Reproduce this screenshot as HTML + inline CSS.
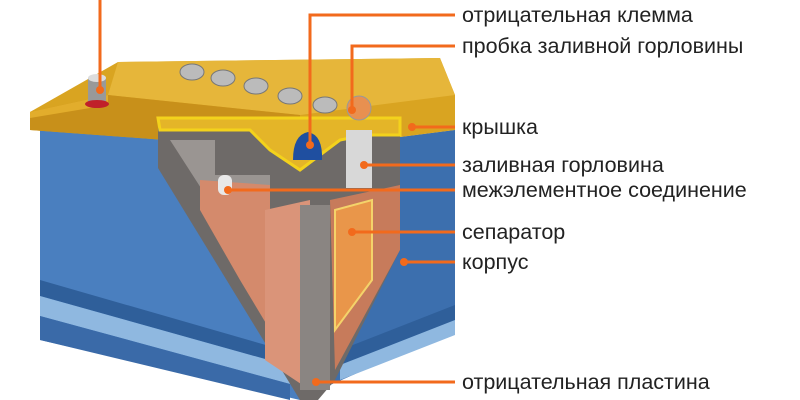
<!DOCTYPE html>
<html><head><meta charset="utf-8"><style>
html,body{margin:0;padding:0;background:#fff;width:800px;height:400px;overflow:hidden}
text{font-family:"Liberation Sans",sans-serif;font-size:21.5px;fill:#222}
</style></head><body>
<svg width="800" height="400" viewBox="0 0 800 400">
<!-- body -->
<polygon points="40,130 300,150 455,130 455,330 330,385 300,400 40,340" fill="#4a7fbf"/>
<polygon points="300,150 455,130 455,330 330,385" fill="#3c6fae"/>
<polygon points="40,280 290,352 290,366 40,296" fill="#2f5f9a"/>
<polygon points="40,296 290,366 290,384 40,316" fill="#8fb8e0"/>
<polygon points="40,316 290,384 290,400 40,340" fill="#3a6aa8"/>
<polygon points="340,350 455,305 455,320 340,365" fill="#2f5f9a"/>
<polygon points="340,365 455,320 455,335 340,380" fill="#8fb8e0"/>
<!-- lid -->
<polygon points="30,112 118,62 440,58 455,95 455,130 300,150 30,130" fill="#d9a421"/>
<polygon points="118,62 440,58 455,95 300,115 108,95" fill="#e6b63a"/>
<polygon points="30,112 108,95 300,115 300,150 30,130" fill="#c8901a"/>
<polygon points="30,112 108,95 108,105 30,118" fill="#e2ad2c"/>
<!-- caps -->
<g fill="#bbb" stroke="#777" stroke-width="1">
<ellipse cx="192" cy="72" rx="12" ry="8"/><ellipse cx="223" cy="78" rx="12" ry="8"/>
<ellipse cx="256" cy="86" rx="12" ry="8"/><ellipse cx="290" cy="96" rx="12" ry="8"/>
<ellipse cx="325" cy="105" rx="12" ry="8"/>
</g>
<rect x="88" y="78" width="18" height="24" fill="#999"/><ellipse cx="97" cy="78" rx="9" ry="4" fill="#ddd"/>
<ellipse cx="97" cy="104" rx="12" ry="4" fill="#c0202a"/>
<!-- cutaway -->
<polygon points="158,118 400,118 400,250 335,380 318,400 300,400 158,168" fill="#6e6a68"/>
<polygon points="170,140 215,140 215,175 270,175 270,300 228,230" fill="#9a9592"/>
<polygon points="200,180 270,185 270,330 240,280 200,210" fill="#d48a6c"/>
<polygon points="265,210 310,200 310,390 265,360" fill="#da9479"/>
<polygon points="300,205 330,205 330,390 300,390" fill="#8a8582"/>
<polygon points="330,200 400,185 400,250 335,370" fill="#c77b5b"/>
<polygon points="335,210 372,200 372,280 335,330" fill="#e9964a" stroke="#f4d36a" stroke-width="2"/>
<polygon points="158,118 400,118 400,135 365,135 340,140 300,170 270,150 250,130 160,130" fill="#e4b528" stroke="#f3d21c" stroke-width="3"/>
<rect x="218" y="175" width="14" height="20" rx="6" fill="#e8e8e8"/>
<path d="M293,160 q0,-25 15,-28 q15,3 14,28 z" fill="#1f4fa0"/>
<rect x="346" y="130" width="26" height="58" fill="#d8d8d8"/>
<ellipse cx="359" cy="108" rx="12" ry="12" fill="#e89050" stroke="#999"/>
<!-- leaders -->
<g stroke="#f26a1c" stroke-width="3" fill="none">
<path d="M100,0 V90"/>
<path d="M455,15 H310 V145"/>
<path d="M455,46 H352 V110"/>
<path d="M455,127 H412"/>
<path d="M455,165 H364"/>
<path d="M455,190 H228"/>
<path d="M455,232 H352"/>
<path d="M455,262 H404"/>
<path d="M455,382 H316"/>
</g>
<g fill="#f26a1c">
<circle cx="100" cy="90" r="4"/><circle cx="310" cy="145" r="4"/><circle cx="352" cy="110" r="4"/>
<circle cx="412" cy="127" r="4"/><circle cx="364" cy="165" r="4"/><circle cx="228" cy="190" r="4"/>
<circle cx="352" cy="232" r="4"/><circle cx="404" cy="262" r="4"/><circle cx="316" cy="382" r="4"/>
</g>
<text x="462" y="22">отрицательная клемма</text>
<text x="462" y="53">пробка заливной горловины</text>
<text x="462" y="134">крышка</text>
<text x="462" y="172">заливная горловина</text>
<text x="462" y="197">межэлементное соединение</text>
<text x="462" y="239">сепаратор</text>
<text x="462" y="269">корпус</text>
<text x="462" y="389">отрицательная пластина</text>
</svg>
</body></html>
